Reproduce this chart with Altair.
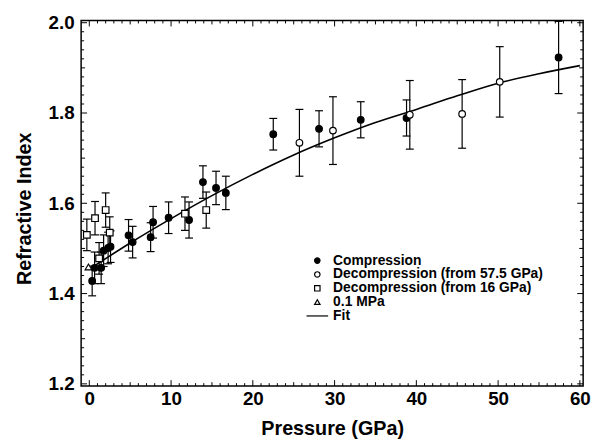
import altair as alt
import pandas as pd
import numpy as np

# ---- data ----
comp_x = [0.35, 0.65, 1.45, 1.75, 2.3, 2.6, 4.8, 5.3, 7.5, 7.8, 9.7, 12.2, 13.9, 15.5, 16.7, 22.5, 28.1, 33.2, 38.8, 57.4]
comp_y = [1.428, 1.457, 1.457, 1.495, 1.501, 1.504, 1.529, 1.514, 1.525, 1.558, 1.568, 1.563, 1.647, 1.634, 1.623, 1.753, 1.765, 1.785, 1.789, 1.923]
comp_err = [0.033, 0.035, 0.035, 0.035, 0.035, 0.035, 0.035, 0.035, 0.032, 0.035, 0.035, 0.04, 0.036, 0.037, 0.037, 0.035, 0.04, 0.04, 0.04, 0.08]

dec57_x = [25.7, 29.8, 39.2, 45.6, 50.2]
dec57_y = [1.734, 1.761, 1.796, 1.798, 1.869]
dec57_err = [0.074, 0.075, 0.076, 0.076, 0.078]

dec16_x = [-0.3, 0.7, 2.0, 2.5, 1.2, 11.7, 14.3]
dec16_y = [1.530, 1.567, 1.585, 1.535, 1.478, 1.577, 1.585]
dec16_err = [0.035, 0.037, 0.038, 0.035, 0.035, 0.037, 0.04]

amb_x = [-0.1]
amb_y = [1.459]
amb_err = [0.0]

fit_x = [0, 5, 10, 15, 20, 25, 30, 35, 40, 45, 50, 55, 60]
fit_y = [1.454, 1.512, 1.566, 1.617, 1.664, 1.707, 1.745, 1.779, 1.808, 1.838, 1.866, 1.887, 1.905]

series_names = ["Compression", "Decompression (from 57.5 GPa)", "Decompression (from 16 GPa)", "0.1 MPa", "Fit"]
shape_range = ["circle", "circle", "square", "triangle-up", "M-4,0L4,0"]
fill_range = ["black", "white", "white", "white", "transparent"]
stroke_range = ["black", "black", "black", "black", "black"]

x_labels = [0, 10, 20, 30, 40, 50, 60]
y_labels = [1.2, 1.4, 1.6, 1.8, 2.0]

# ---- tables ----
frames = []
for name, xs_, ys_, es in [
    (series_names[0], comp_x, comp_y, comp_err),
    (series_names[1], dec57_x, dec57_y, dec57_err),
    (series_names[2], dec16_x, dec16_y, dec16_err),
    (series_names[3], amb_x, amb_y, amb_err),
]:
    frames.append(pd.DataFrame({"P": xs_, "n": ys_, "err": es, "series": name}))
pts = pd.concat(frames, ignore_index=True)
pts["lo"] = pts["n"] - pts["err"]
pts["hi"] = pts["n"] + pts["err"]
bars = pts[pts["err"] > 0]
fit = pd.DataFrame({"P": fit_x, "n": fit_y})

W, H = 508, 370
FONT = "Liberation Sans"

xs = alt.Scale(domain=[-1, 60.4], nice=False, zero=False)
ys = alt.Scale(domain=[1.195, 2.005], nice=False, zero=False)

xaxis = alt.Axis(values=x_labels, format="d", ticks=False, tickSize=0, domain=False, grid=False,
                 labelFont=FONT, labelFontSize=19, labelFontWeight="bold", labelColor="black",
                 labelPadding=4, title="Pressure (GPa)", titleFont=FONT, titleFontSize=20,
                 titleFontWeight="bold", titleColor="black", titleY=43, titleBaseline="middle")
yaxis = alt.Axis(values=y_labels, format=".1f", ticks=False, tickSize=0, domain=False, grid=False,
                 labelFont=FONT, labelFontSize=19, labelFontWeight="bold", labelColor="black",
                 labelPadding=7, title="Refractive Index", titleFont=FONT, titleFontSize=20,
                 titleFontWeight="bold", titleColor="black", titleX=-57, titleY=190,
                 titleBaseline="middle", titleAlign="center")

err_rule = alt.Chart(bars).mark_rule(color="black", strokeWidth=1.2).encode(
    x=alt.X("P:Q", scale=xs, axis=xaxis),
    y=alt.Y("lo:Q", scale=ys, axis=yaxis),
    y2="hi:Q",
)
cap_lo = alt.Chart(bars).mark_tick(color="black", orient="horizontal", size=8, thickness=1.2, opacity=1).encode(
    x="P:Q", y="lo:Q")
cap_hi = alt.Chart(bars).mark_tick(color="black", orient="horizontal", size=8, thickness=1.2, opacity=1).encode(
    x="P:Q", y="hi:Q")

fit_line = alt.Chart(fit).mark_line(color="black", strokeWidth=1.6, interpolate="monotone").encode(
    x="P:Q", y="n:Q")

legend = alt.Legend(title=None, orient="none", legendX=232, legendY=236, padding=0,
                    labelFont=FONT, labelFontSize=14, labelFontWeight="bold", labelColor="black",
                    labelLimit=0, symbolSize=30, symbolStrokeColor="black", symbolStrokeWidth=1.2,
                    labelOffset=9, rowPadding=0)

points = alt.Chart(pts).mark_point(strokeWidth=1.2, size=45, opacity=1).encode(
    x="P:Q", y="n:Q",
    shape=alt.Shape("series:N", scale=alt.Scale(domain=series_names, range=shape_range), legend=legend),
    fill=alt.Fill("series:N", scale=alt.Scale(domain=series_names, range=fill_range), legend=legend),
    stroke=alt.Stroke("series:N", scale=alt.Scale(domain=series_names, range=stroke_range), legend=legend),
)

# ---- inward frame ticks ----
x_minor = [v for v in range(0, 61) if v % 5 != 0]
x_mid = [v for v in range(5, 60, 10)]
x_major = list(range(0, 61, 10))
y_all = [round(v, 2) for v in np.arange(1.20, 2.001, 0.02)]
y_major = [1.2, 1.4, 1.6, 1.8, 2.0]
y_mid = [1.3, 1.5, 1.7, 1.9]
y_minor = [v for v in y_all if all(abs(v - m) > 1e-6 for m in y_major + y_mid)]

def xticks(vals, length):
    d = pd.DataFrame({"P": vals})
    b = alt.Chart(d).mark_rule(color="black", strokeWidth=1)
    return [b.encode(x="P:Q", y=alt.value(H), y2=alt.value(H - length)),
            b.encode(x="P:Q", y=alt.value(0), y2=alt.value(length))]

def yticks(vals, length):
    d = pd.DataFrame({"n": vals})
    b = alt.Chart(d).mark_rule(color="black", strokeWidth=1)
    return [b.encode(y="n:Q", x=alt.value(0), x2=alt.value(length)),
            b.encode(y="n:Q", x=alt.value(W), x2=alt.value(W - length))]

tick_layers = (xticks(x_minor, 3) + xticks(x_mid, 4) + xticks(x_major, 6)
               + yticks(y_minor, 3) + yticks(y_mid, 4) + yticks(y_major, 6))

chart = alt.layer(err_rule, cap_lo, cap_hi, fit_line, points, *tick_layers).properties(
    width=W, height=H,
    autosize=alt.AutoSizeParams(type="none"),
    padding={"left": 74, "top": 10, "right": 12, "bottom": 60},
    background="white",
).configure_view(stroke="black", strokeWidth=1.5)

chart.save("out.html", embed_options={"renderer": "svg", "actions": False})
